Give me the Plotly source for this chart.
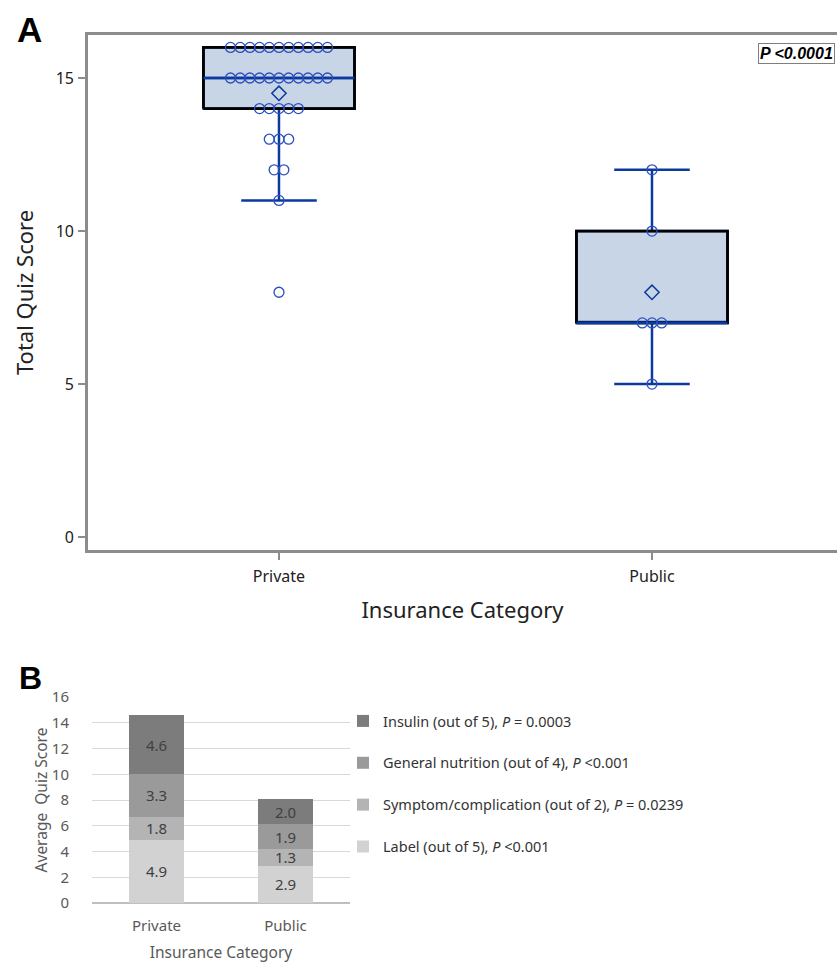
import numpy as np
import plotly.graph_objects as go

# ---------------- data ----------------
groups_a = ["Private", "Public"]
private_scores = [16, 16, 16, 16, 16, 16, 16, 16, 16, 16, 16,
                  15, 15, 15, 15, 15, 15, 15, 15, 15, 15, 15,
                  14, 14, 14, 14, 14,
                  13, 13, 13,
                  12, 12,
                  11,
                  8]
public_scores = [12, 10, 7, 7, 7, 5]
yticks_a = [0, 5, 10, 15]
p_text_a = "P &lt;0.0001"

categories_b = ["Private", "Public"]
label_scores = [4.9, 2.9]
symptom_scores = [1.8, 1.3]
nutrition_scores = [3.3, 1.9]
insulin_scores = [4.6, 2.0]
series_names_b = [
    "Label (out of 5), <i>P</i> &lt;0.001",
    "Symptom/complication (out of 2), <i>P</i> = 0.0239",
    "General nutrition (out of 4), <i>P</i> &lt;0.001",
    "Insulin (out of 5), <i>P</i> = 0.0003",
]
series_colors_b = ["#d2d2d2", "#b4b4b4", "#9a9a9a", "#7c7c7c"]
yticks_b = [0, 2, 4, 6, 8, 10, 12, 14, 16]

# ---------------- styles ----------------
FONT = "Noto Sans, Open Sans, sans-serif"
BLUE = "#0b3a9e"
CIRCLE = "#2a4fbf"
BOXFILL = "#c8d5e6"
AXIS = "#8c8c8c"
BOXW = 0.405
SPACING = 0.026

fig = go.Figure()

def box_stats(vals):
    v = np.sort(np.array(vals, dtype=float))
    q1, med, q3 = np.percentile(v, [25, 50, 75], method="averaged_inverted_cdf")
    iqr = q3 - q1
    lo = v[v >= q1 - 1.5 * iqr].min()
    hi = v[v <= q3 + 1.5 * iqr].max()
    return q1, med, q3, lo, hi, v.mean()

for pos, vals in enumerate([private_scores, public_scores]):
    q1, med, q3, lo, hi, mean = box_stats(vals)
    fig.add_trace(go.Box(
        x=[pos], q1=[q1], median=[med], q3=[q3], lowerfence=[lo], upperfence=[hi],
        width=BOXW, whiskerwidth=0.5, fillcolor=BOXFILL,
        line=dict(color=BLUE, width=2.5), boxpoints=False,
        showlegend=False, hoverinfo="skip", xaxis="x", yaxis="y"))
    x0, x1 = pos - BOXW / 2, pos + BOXW / 2
    fig.add_trace(go.Scatter(
        x=[x0, x1, x1, x0, x0], y=[q1, q1, q3, q3, q1], mode="lines",
        line=dict(color="black", width=2.8), showlegend=False, hoverinfo="skip",
        xaxis="x", yaxis="y"))
    fig.add_trace(go.Scatter(
        x=[x0, x1], y=[med, med], mode="lines",
        line=dict(color=BLUE, width=2.5), showlegend=False, hoverinfo="skip",
        xaxis="x", yaxis="y"))
    uvals, counts = np.unique(vals, return_counts=True)
    px, py = [], []
    for val, n in zip(uvals, counts):
        for i in range(n):
            px.append(pos + (i - (n - 1) / 2) * SPACING)
            py.append(val)
    fig.add_trace(go.Scatter(
        x=px, y=py, mode="markers",
        marker=dict(symbol="circle-open", size=10, color=CIRCLE, line=dict(width=1.3)),
        showlegend=False, hoverinfo="skip", xaxis="x", yaxis="y"))
    fig.add_trace(go.Scatter(
        x=[pos], y=[mean], mode="markers",
        marker=dict(symbol="diamond-open", size=11, color=BLUE, line=dict(width=1.5)),
        showlegend=False, hoverinfo="skip", xaxis="x", yaxis="y"))

# ---------------- panel B ----------------
n_series = 4
for k, (vals, name, col) in enumerate(zip(
        [label_scores, symptom_scores, nutrition_scores, insulin_scores],
        series_names_b, series_colors_b)):
    fig.add_trace(go.Bar(
        x=categories_b, y=vals, name=name, legendgroup=name, legendrank=n_series - k,
        marker=dict(color=col, line=dict(width=0)),
        width=0.42, text=[f"{v:.1f}" for v in vals], textposition="inside",
        insidetextanchor="middle", textangle=0, constraintext="none",
        textfont=dict(family=FONT, size=15, color="#404040"),
        xaxis="x2", yaxis="y2", hoverinfo="skip"))

fig.update_layout(
    width=837, height=963,
    margin=dict(l=0, r=0, t=0, b=0, autoexpand=False),
    paper_bgcolor="white", plot_bgcolor="white",
    font=dict(family=FONT, color="#222222"),
    barmode="stack",
    xaxis=dict(
        domain=[88 / 837, 1.0], range=[-0.512, 1.496], automargin=False,
        tickvals=[0, 1], ticktext=groups_a, ticks="outside", ticklen=7,
        tickcolor=AXIS, tickwidth=2, showgrid=False, zeroline=False,
        showline=True, linecolor=AXIS, linewidth=2.6, mirror=True,
        tickfont=dict(size=16, color="#222222"), ticklabelstandoff=3,
        title=dict(text="Insurance Category", font=dict(size=22, color="#222222"), standoff=17),
        anchor="y"),
    yaxis=dict(
        domain=[1 - 550 / 963, 1 - 35 / 963], range=[-0.42, 16.405], automargin=False,
        tickvals=yticks_a, ticks="outside", ticklen=7, tickcolor=AXIS, tickwidth=2,
        showgrid=False, zeroline=False, showline=True, linecolor=AXIS, linewidth=2.6,
        mirror=False, tickfont=dict(size=16, color="#222222"), ticklabelstandoff=1,
        title=dict(text="Total Quiz Score", font=dict(size=22, color="#222222"), standoff=16),
        anchor="x"),
    xaxis2=dict(
        domain=[92 / 837, 350 / 837], range=[-0.5, 1.5], type="category", automargin=False,
        showgrid=False, zeroline=False, showline=False, ticks="",
        tickfont=dict(size=15, color="#595959"), ticklabelstandoff=12,
        title=dict(text="Insurance Category", font=dict(size=15.5, color="#595959"), standoff=14),
        anchor="y2"),
    yaxis2=dict(
        domain=[1 - 903 / 963, 1 - 697 / 963], range=[0, 16], automargin=False,
        tickvals=yticks_b, showgrid=True, gridcolor="#d9d9d9", gridwidth=1,
        zeroline=True, zerolinecolor="#bfbfbf", zerolinewidth=1.5,
        showline=False, ticks="", ticklabelstandoff=22,
        tickfont=dict(size=15, color="#595959"),
        title=dict(text="Average&nbsp; Quiz Score", font=dict(size=15.5, color="#595959"), standoff=0),
        anchor="x2"),
    legend=dict(
        x=343 / 837, xanchor="left", y=1 - 705 / 963, yanchor="top",
        traceorder="grouped", tracegroupgap=20,
        font=dict(family=FONT, size=14.5, color="#333333"),
        itemwidth=30, bgcolor="rgba(0,0,0,0)"),
    annotations=[
        dict(text="<b>A</b>", x=29 / 837, y=1 - 29 / 963, xref="paper", yref="paper",
             xanchor="center", yanchor="middle", showarrow=False,
             font=dict(family="Liberation Sans, Arial", size=35, color="black")),
        dict(text="<b>B</b>", x=30 / 837, y=1 - 678 / 963, xref="paper", yref="paper",
             xanchor="center", yanchor="middle", showarrow=False,
             font=dict(family="Liberation Sans, Arial", size=32, color="black")),
        dict(text="<b><i>" + p_text_a + "</i></b>", x=835 / 837, y=1 - 53 / 963,
             xref="paper", yref="paper", xanchor="right", yanchor="middle",
             showarrow=False, bordercolor="#7f7f7f", borderwidth=1, borderpad=1,
             bgcolor="white",
             font=dict(family="Liberation Sans, Arial", size=16, color="black")),
    ],
)

fig.write_html("out.html", config={"displayModeBar": False},
               post_script="document.body.style.margin='0';")
